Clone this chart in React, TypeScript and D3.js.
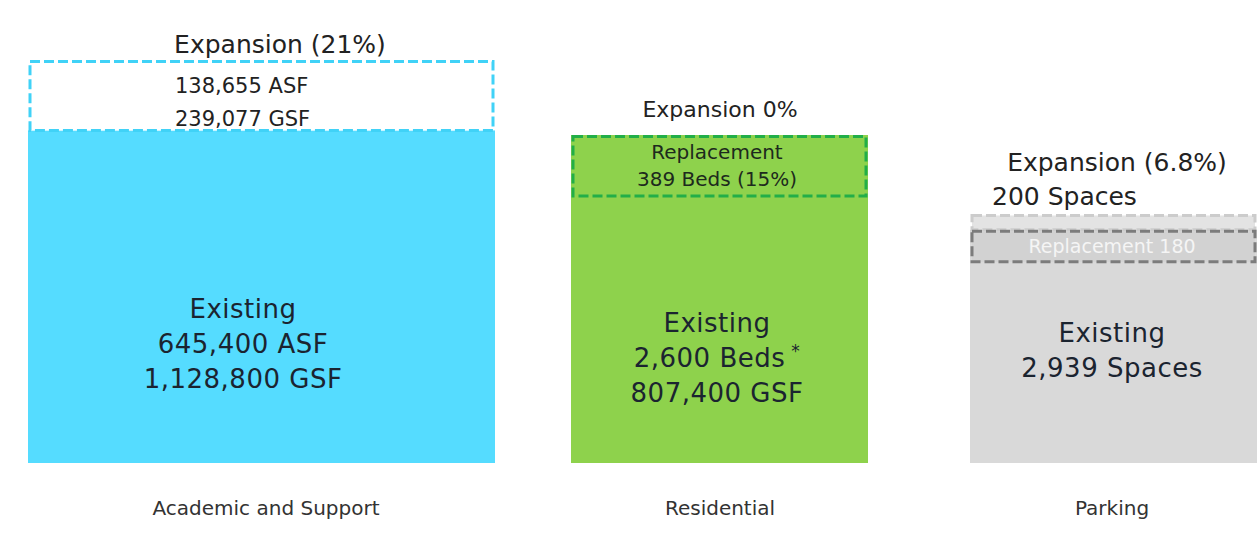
import * as d3 from 'd3';
import React from 'react';

// values per category (each bar has its own unit: GSF, beds, spaces)
const categories = ['Academic and Support', 'Residential', 'Parking'];
const existingValues = [1128800, 2600, 2939];
const expansionValues = [239077, 0, 200];
const replacementValues = [0, 389, 180];

const expansionTitles = ['Expansion (21%)', 'Expansion 0%', 'Expansion (6.8%)'];
const expansionLabels = [['138,655 ASF', '239,077 GSF'], [], ['200 Spaces']];
const replacementLabels = [[], ['Replacement', '389 Beds (15%)'], ['Replacement 180']];
const existingLabels = [
  ['Existing', '645,400 ASF', '1,128,800 GSF'],
  ['Existing', '2,600 Beds', '807,400 GSF'],
  ['Existing', '2,939 Spaces'],
];
const footnoteMarks = ['', '*', ''];

// layout
const W = 1257;
const H = 539;
const baseY = 463;
const barLeft = [28, 571, 970];
const barRight = [495, 868, 1257];
const barTop = [60, 135, 214];
const titleX = [280, 720, 1117];
const titleY = [53, 117, 171];
const titleSize = [25, 22, 25];
const expLabelX = [175, 0, 992];
const expLabelY = [93, 0, 205];
const expLabelSize = [21, 0, 25];
const labelX = [243, 717, 1112];
const existingFirstY = [318, 332, 342];
const bottomLabelX = [266, 720, 1112];

const fills = ['#55dcff', '#8ed24c', '#d9d9d9'];
const expFill = ['#ffffff', 'none', '#e3e3e3'];
const expStroke = ['#40d2f7', 'none', '#cccccc'];
const replStroke = ['none', '#22ae48', '#7c7c7c'];
const replFill = ['none', '#8ed24c', '#d2d2d2'];
const replText = ['#222', '#1d2a1d', '#f5f5f5'];

const font = '"DejaVu Sans", sans-serif';

const App: React.FC = () => {
  return (
    <div style={{ position: 'absolute', left: 0, top: 0 }}>
      <svg width={W} height={H} style={{ display: 'block', background: '#fff' }}>
        {categories.map((cat, i) => {
          const total = existingValues[i] + expansionValues[i];
          const y = d3.scaleLinear().domain([0, total]).range([baseY, barTop[i]]);
          const x0 = barLeft[i];
          const x1 = barRight[i];
          const exTop = y(existingValues[i]);
          const expTop = y(total);
          const replLines = replacementLabels[i].length;
          const replH = replacementValues[i] > 0
            ? Math.max(baseY - y(replacementValues[i]), replLines * 29 + 3)
            : 0;
          return (
            <g key={cat}>
              {/* existing */}
              <rect x={x0} y={exTop} width={x1 - x0} height={baseY - exTop} fill={fills[i]} />

              {/* expansion */}
              {expansionValues[i] > 0 && (
                <rect
                  x={x0 + 2}
                  y={expTop + 1.5}
                  width={x1 - x0 - 4}
                  height={exTop - expTop - 1.5}
                  fill={expFill[i]}
                  stroke={expStroke[i]}
                  strokeWidth={3}
                  strokeDasharray="10,4"
                />
              )}

              {/* replacement */}
              {replH > 0 && (
                <rect
                  x={x0 + 2}
                  y={exTop + 1.5}
                  width={x1 - x0 - 4}
                  height={replH - 1.5}
                  fill={replFill[i]}
                  stroke={replStroke[i]}
                  strokeWidth={3}
                  strokeDasharray="10,4"
                />
              )}
              {replacementLabels[i].map((t, j) => (
                <text
                  key={t}
                  x={labelX[i]}
                  y={exTop + (replLines > 1 ? 24 : 23) + j * 27}
                  textAnchor="middle"
                  fontFamily={font}
                  fontSize={replLines > 1 ? 20 : 19}
                  fill={replText[i]}
                >
                  {t}
                </text>
              ))}

              {/* titles */}
              <text
                x={titleX[i]}
                y={titleY[i]}
                textAnchor="middle"
                fontFamily={font}
                fontSize={titleSize[i]}
                fill="#222"
              >
                {expansionTitles[i]}
              </text>
              {expansionLabels[i].map((t, j) => (
                <text
                  key={t}
                  x={expLabelX[i]}
                  y={expLabelY[i] + j * 33}
                  fontFamily={font}
                  fontSize={expLabelSize[i]}
                  fill="#222"
                >
                  {t}
                </text>
              ))}

              {/* existing labels */}
              {existingLabels[i].map((t, j) => (
                <text
                  key={t}
                  x={labelX[i]}
                  y={existingFirstY[i] + j * 35}
                  textAnchor="middle"
                  fontFamily={font}
                  fontSize={26}
                  letterSpacing={0.5}
                  fill="#1b2430"
                >
                  {t}
                  {j === 1 && footnoteMarks[i] && (
                    <tspan fontSize={17} dx={6} dy={-10}>
                      {footnoteMarks[i]}
                    </tspan>
                  )}
                </text>
              ))}

              {/* category label */}
              <text
                x={bottomLabelX[i]}
                y={515}
                textAnchor="middle"
                fontFamily={font}
                fontSize={20}
                fill="#333"
              >
                {cat}
              </text>
            </g>
          );
        })}
      </svg>
    </div>
  );
};

export default App;
